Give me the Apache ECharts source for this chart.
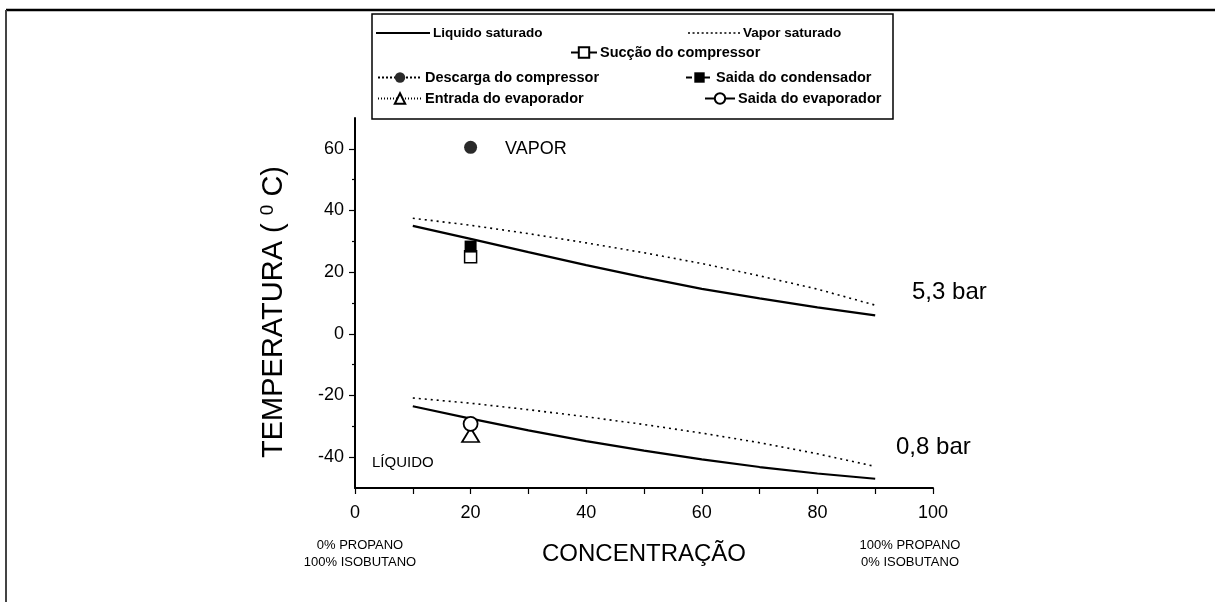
<!DOCTYPE html>
<html>
<head>
<meta charset="utf-8">
<script src="https://cdn.jsdelivr.net/npm/echarts@6/dist/echarts.min.js"></script>
<style>
html,body{margin:0;padding:0;background:#fff;}
#chart{width:1215px;height:602px;}
</style>
</head>
<body>
<div id="chart"></div>
<script>
// ---- data ----
var concentracao = [10, 20, 30, 40, 50, 60, 70, 80, 90];
var liquido53 = [35, 30.8, 26.5, 22.3, 18.3, 14.6, 11.5, 8.6, 6];
var vapor53   = [37.5, 35.2, 32.5, 29.5, 26.3, 22.8, 18.8, 14.5, 9.3];
var liquido08 = [-23.5, -27.5, -31.3, -34.8, -37.9, -40.7, -43.2, -45.3, -47];
var vapor08   = [-20.8, -22.5, -24.6, -26.9, -29.4, -32.2, -35.3, -38.9, -43];
var pontoX = 20;
var succaoCompressor = [25];
var descargaCompressor = [60.5];
var saidaCondensador = [28.3];
var entradaEvaporador = [-32.8];
var saidaEvaporador = [-29.2];
var xTicks = [0, 20, 40, 60, 80, 100];
var yTicks = [-40, -20, 0, 20, 40, 60];
var yMinorTicks = [-30, -10, 10, 30, 50];

function pairs(xs, ys) { return xs.map(function (x, i) { return [x, ys[i]]; }); }
function pt(v) { return [[pontoX, v[0]]]; }

var SANS = '"Liberation Sans", Arial, sans-serif';

var chart = echarts.init(document.getElementById('chart'), null, {renderer: 'canvas'});

// legend icons for the plain curves (line only, no marker)
var solidIcon = 'path://M0,0H54V2.2H0Z';
var dottedIcon = (function () {
  var p = 'path://';
  for (var i = 0; i < 12; i++) { p += 'M' + (i * 4.5) + ',0h2v1.6h-2z'; }
  return p;
})();

function legend(item, left, top, w, fs) {
  return {
    data: [item], left: left, top: top, itemWidth: w, itemHeight: 13,
    orient: 'horizontal', padding: 0, selectedMode: false,
    textStyle: {fontFamily: SANS, fontSize: fs || 14.5, color: '#000', fontWeight: 'bold', padding: [0, 0, 0, -2]}
  };
}

var lineBase = {type: 'line', showSymbol: false, symbol: 'none', silent: true, z: 2, animation: false};

var option = {
  animation: false,
  backgroundColor: '#fff',
  grid: {left: 355, top: 118, width: 578, height: 370, containLabel: false},
  legend: [
    legend({name: 'Liquido saturado', icon: solidIcon}, 376, 26, 54, 13.5),
    legend({name: 'Vapor saturado', icon: dottedIcon}, 688, 26, 52, 13.5),
    legend('Sucção do compressor', 570, 45, 26),
    legend('Descarga do compressor', 377, 70, 44),
    legend('Saida do condensador', 685, 70, 27),
    legend('Entrada do evaporador', 377, 91, 44),
    legend('Saida do evaporador', 704, 91, 30)
  ],
  xAxis: {
    type: 'value', min: 0, max: 100, interval: 10,
    axisLine: {show: true, onZero: false, lineStyle: {color: '#000', width: 2}},
    axisTick: {show: true, length: 6, lineStyle: {color: '#000', width: 1.2}},
    axisLabel: {
      show: true, margin: 16, fontFamily: SANS, fontSize: 18, color: '#000',
      customValues: xTicks
    },
    splitLine: {show: false},
    name: 'CONCENTRAÇÃO', nameLocation: 'middle', nameGap: 54,
    nameTextStyle: {fontFamily: SANS, fontSize: 24, color: '#000'}
  },
  yAxis: [{
    type: 'value', min: -50, max: 70, interval: 10,
    axisLine: {show: true, onZero: false, lineStyle: {color: '#000', width: 2}},
    axisTick: {show: true, length: 6, lineStyle: {color: '#000', width: 1.2}, customValues: yTicks},
    axisLabel: {show: true, margin: 11, fontFamily: SANS, fontSize: 18, color: '#000', customValues: yTicks},
    splitLine: {show: false},
    name: 'TEMPERATURA ( {s|0} C)', nameLocation: 'middle', nameGap: 66,
    nameTextStyle: {
      fontFamily: SANS, fontSize: 29, color: '#000', padding: [0, 18, 0, 0],
      rich: {s: {fontFamily: SANS, fontSize: 19, color: '#000', verticalAlign: 'top', padding: [0, 0, 12, 0]}}
    }
  }, {
    type: 'value', min: -50, max: 70, interval: 10, position: 'left',
    axisLine: {show: false},
    axisTick: {show: true, length: 3, lineStyle: {color: '#000', width: 1.2}, customValues: yMinorTicks},
    axisLabel: {show: false},
    splitLine: {show: false}
  }],
  series: [
    Object.assign({}, lineBase, {name: 'Liquido saturado', data: pairs(concentracao, liquido53),
      lineStyle: {color: '#000', width: 2.2, type: 'solid'}, itemStyle: {color: '#000'}}),
    Object.assign({}, lineBase, {name: 'Liquido saturado', data: pairs(concentracao, liquido08),
      lineStyle: {color: '#000', width: 2.2, type: 'solid'}, itemStyle: {color: '#000'}}),
    Object.assign({}, lineBase, {name: 'Vapor saturado', data: pairs(concentracao, vapor53),
      lineStyle: {color: '#000', width: 1.6, type: [2, 4]}, itemStyle: {color: '#000'}}),
    Object.assign({}, lineBase, {name: 'Vapor saturado', data: pairs(concentracao, vapor08),
      lineStyle: {color: '#000', width: 1.6, type: [2, 4]}, itemStyle: {color: '#000'}}),
    {type: 'line', name: 'Sucção do compressor', data: pt(succaoCompressor), symbol: 'rect', symbolSize: 12, showSymbol: true, z: 3,
      lineStyle: {color: '#000', width: 1, type: 'solid'}, itemStyle: {color: '#fff', borderColor: '#000', borderWidth: 1.5}},
    {type: 'line', name: 'Saida do condensador', data: pt(saidaCondensador), symbol: 'rect', symbolSize: 12, showSymbol: true, z: 4,
      lineStyle: {color: '#000', width: 1, type: [6, 3]}, itemStyle: {color: '#000'}},
    {type: 'line', name: 'Descarga do compressor', data: pt(descargaCompressor), symbol: 'circle', symbolSize: 13, showSymbol: true, z: 4,
      lineStyle: {color: '#000', width: 1, type: [2, 2]}, itemStyle: {color: '#2a2a2a'}},
    {type: 'line', name: 'Entrada do evaporador', data: pt(entradaEvaporador), symbol: 'triangle', symbolSize: [17, 14], showSymbol: true, z: 4,
      lineStyle: {color: '#000', width: 1, type: [1, 2]}, itemStyle: {color: '#fff', borderColor: '#000', borderWidth: 1.8}},
    {type: 'line', name: 'Saida do evaporador', data: pt(saidaEvaporador), symbol: 'circle', symbolSize: 14, showSymbol: true, z: 5,
      lineStyle: {color: '#000', width: 1, type: 'solid'}, itemStyle: {color: '#fff', borderColor: '#000', borderWidth: 1.8}}
  ],
  graphic: [
    {type: 'line', shape: {x1: 6, y1: 10, x2: 1215, y2: 10}, style: {stroke: '#000', lineWidth: 2.5}, silent: true},
    {type: 'line', shape: {x1: 6, y1: 10, x2: 6, y2: 602}, style: {stroke: '#444', lineWidth: 2}, silent: true},
    {type: 'rect', shape: {x: 372, y: 14, width: 521, height: 105}, style: {fill: 'none', stroke: '#000', lineWidth: 1.5}, silent: true, z: -1},
    {type: 'text', left: 505, top: 140, style: {text: 'VAPOR', fontFamily: SANS, fontSize: 18, fill: '#000'}, silent: true},
    {type: 'text', left: 372, top: 455, style: {text: 'LÍQUIDO', fontFamily: SANS, fontSize: 15, fill: '#000'}, silent: true},
    {type: 'text', left: 912, top: 280, style: {text: '5,3 bar', fontFamily: SANS, fontSize: 24, fill: '#000'}, silent: true},
    {type: 'text', left: 896, top: 435, style: {text: '0,8 bar', fontFamily: SANS, fontSize: 24, fill: '#000'}, silent: true},
    {type: 'text', x: 360, y: 537, style: {text: '0% PROPANO\n100% ISOBUTANO', align: 'center', fontFamily: SANS, fontSize: 13, lineHeight: 17, fill: '#000'}, silent: true},
    {type: 'text', x: 910, y: 537, style: {text: '100% PROPANO\n0% ISOBUTANO', align: 'center', fontFamily: SANS, fontSize: 13, lineHeight: 17, fill: '#000'}, silent: true}
  ]
};
chart.setOption(option);
</script>
</body>
</html>
